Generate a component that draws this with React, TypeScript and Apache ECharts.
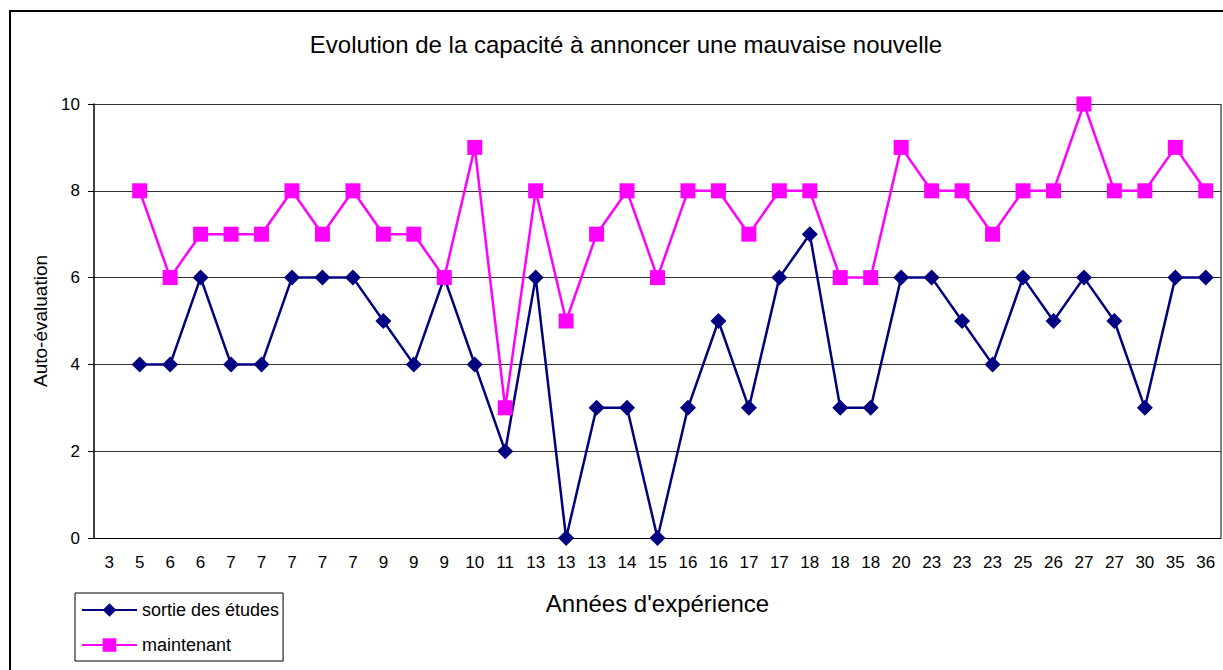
import React, { useEffect, useRef } from "react";
import * as echarts from "echarts";

const categories = ["3","5","6","6","7","7","7","7","7","9","9","9","10","11","13","13","13","14","15","16","16","17","17","18","18","18","20","23","23","23","25","26","27","27","30","35","36"];
const sortieDesEtudes = [null,4,4,6,4,4,6,6,6,5,4,6,4,2,6,0,3,3,0,3,5,3,6,7,3,3,6,6,5,4,6,5,6,5,3,6,6];
const maintenant = [null,8,6,7,7,7,8,7,8,7,7,6,9,3,8,5,7,8,6,8,8,7,8,8,6,6,9,8,8,7,8,8,10,8,8,9,8];
const yTicks = { min: 0, max: 10, interval: 2 };

const FONT = "'Liberation Sans', Arial, sans-serif";

export default function App() {
  const ref = useRef<HTMLDivElement>(null);
  useEffect(() => {
    if (!ref.current) return;
    const chart = echarts.init(ref.current, null, { renderer: "svg" });
    chart.setOption({
      animation: false,
      backgroundColor: "#fff",
      textStyle: { fontFamily: FONT },
      title: {
        text: "Evolution de la capacité à annoncer une mauvaise nouvelle",
        left: 621,
        textAlign: "center",
        top: 27,
        textStyle: { fontFamily: FONT, fontSize: 24, fontWeight: "normal", color: "#000" },
      },
      graphic: [
        { type: "rect", shape: { x: 10, y: 11, width: 1300, height: 700 }, style: { fill: "none", stroke: "#000", lineWidth: 2 }, silent: true, z: -1 },
        { type: "line", shape: { x1: 1221, y1: 104, x2: 1221, y2: 538 }, style: { stroke: "#808080", lineWidth: 2 }, silent: true },
      ],
      legend: {
        orient: "vertical",
        left: 75,
        top: 593,
        padding: [7, 4, 6, 6],
        itemWidth: 55,
        itemHeight: 17,
        itemGap: 15,
        borderColor: "#000",
        borderWidth: 1,
        textStyle: { fontFamily: FONT, fontSize: 18, color: "#000", lineHeight: 20 },
        data: ["sortie des études", "maintenant"],
      },
      grid: { left: 94, top: 104, right: 2, bottom: 132, containLabel: false },
      xAxis: {
        type: "category",
        data: categories,
        boundaryGap: true,
        name: "Années d'expérience",
        nameLocation: "middle",
        nameGap: 53,
        nameTextStyle: { fontFamily: FONT, fontSize: 24, color: "#000" },
        axisLine: { lineStyle: { color: "#000", width: 1 } },
        axisTick: { interval: 0, length: 6, lineStyle: { color: "#000" } },
        axisLabel: { interval: 0, fontSize: 17, color: "#000", margin: 16, fontFamily: FONT },
      },
      yAxis: {
        type: "value",
        min: yTicks.min,
        max: yTicks.max,
        interval: yTicks.interval,
        name: "Auto-évaluation",
        nameLocation: "middle",
        nameRotate: 90,
        nameGap: 44,
        nameTextStyle: { fontFamily: FONT, fontSize: 19, color: "#000" },
        axisLine: { show: true, lineStyle: { color: "#000", width: 1.5 } },
        axisTick: { show: true, length: 6, lineStyle: { color: "#000" } },
        axisLabel: { fontSize: 17, color: "#000", margin: 14, fontFamily: FONT },
        splitLine: { lineStyle: { color: "#333", width: 1 } },
      },
      series: [
        {
          name: "sortie des études",
          type: "line",
          data: sortieDesEtudes,
          symbol: "diamond",
          symbolSize: 16,
          clip: false,
          itemStyle: { color: "#000080" },
          lineStyle: { color: "#000080", width: 2.5 },
        },
        {
          name: "maintenant",
          type: "line",
          data: maintenant,
          symbol: "rect",
          symbolSize: 15,
          clip: false,
          itemStyle: { color: "#FF00FF" },
          lineStyle: { color: "#FF00FF", width: 2.5 },
        },
      ],
    });
    return () => chart.dispose();
  }, []);
  return <div ref={ref} style={{ position: "absolute", left: 0, top: 0, width: 1223, height: 670 }} />;
}
